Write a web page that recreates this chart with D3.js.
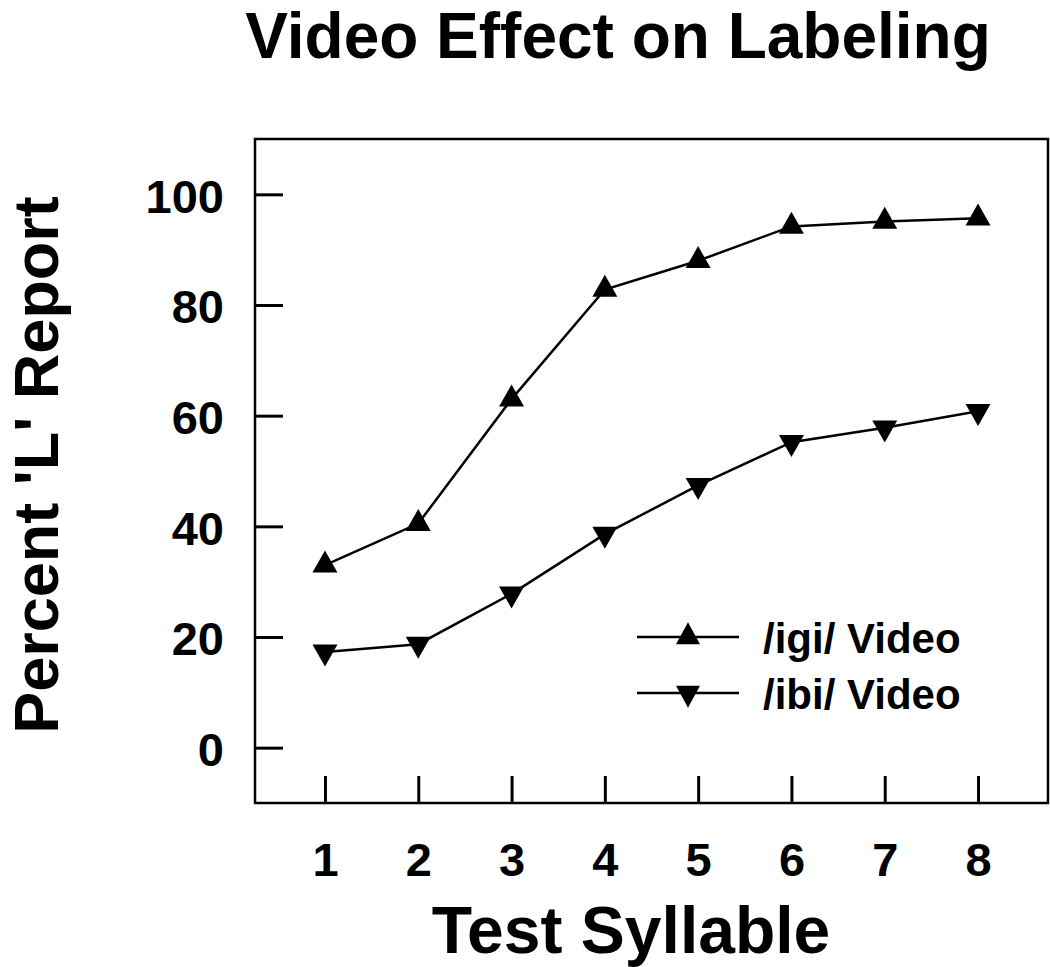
<!DOCTYPE html>
<html>
<head>
<meta charset="utf-8">
<script src="https://cdn.jsdelivr.net/npm/d3@7"></script>
<style>
  body { margin: 0; background: #fff; }
  text { font-family: "Liberation Sans", Arial, sans-serif; font-weight: bold; fill: #000; }
</style>
</head>
<body>
<div id="chart-container"></div>
<script>
// Data
const syllables = [1, 2, 3, 4, 5, 6, 7, 8];
const igiVideo = [33, 40.5, 63, 82.8, 88, 94.2, 95.1, 95.7];
const ibiVideo = [17.3, 18.7, 27.8, 38.6, 47.4, 55.2, 57.8, 60.8];
const yTicks = [0, 20, 40, 60, 80, 100];
const seriesNames = ["/igi/ Video", "/ibi/ Video"];

const width = 1050, height = 967;

// Plot box edges
const box = {left: 255, right: 1048, top: 139, bottom: 803};

const x = d3.scaleLinear()
  .domain([0.25, 8.75])
  .range([box.left, box.right]);

const y = d3.scaleLinear()
  .domain([-10, 110])
  .range([box.bottom, box.top]);

const svg = d3.select("#chart-container")
  .append("svg")
    .attr("width", width)
    .attr("height", height);

// Triangle path, centred on its centroid; dir = 1 points up, -1 points down
function triangle(w, h, dir) {
  const tip = -dir * 2 * h / 3, base = dir * h / 3;
  return `M0,${tip}L${w / 2},${base}L${-w / 2},${base}Z`;
}

// Title
svg.append("text")
  .attr("x", 618)
  .attr("y", 58)
  .attr("text-anchor", "middle")
  .style("font-size", "64px")
  .text("Video Effect on Labeling");

// Y axis (ticks point inwards)
svg.append("g")
  .attr("transform", `translate(${box.left},0)`)
  .style("font-size", "47px")
  .call(d3.axisLeft(y)
    .tickValues(yTicks)
    .tickSize(-28)
    .tickPadding(31))
  .call(g => g.select(".domain").remove())
  .call(g => g.selectAll(".tick line").attr("stroke", "#000").attr("stroke-width", 3))
  .call(g => g.selectAll(".tick text")
    .attr("dy", "0.38em")
    .style("font-family", "'Liberation Sans', Arial, sans-serif")
    .style("font-weight", "bold")
    .attr("fill", "#000"));

// X axis
svg.append("g")
  .attr("transform", `translate(0,${box.bottom})`)
  .style("font-size", "47px")
  .call(d3.axisBottom(x)
    .tickValues(syllables)
    .tickFormat(d3.format("d"))
    .tickSize(-27)
    .tickPadding(40))
  .call(g => g.select(".domain").remove())
  .call(g => g.selectAll(".tick line").attr("stroke", "#000").attr("stroke-width", 3))
  .call(g => g.selectAll(".tick text")
    .style("font-family", "'Liberation Sans', Arial, sans-serif")
    .style("font-weight", "bold")
    .attr("fill", "#000"));

// Frame
svg.append("rect")
  .attr("x", box.left)
  .attr("y", box.top)
  .attr("width", box.right - box.left)
  .attr("height", box.bottom - box.top)
  .attr("fill", "none")
  .attr("stroke", "#000")
  .attr("stroke-width", 2.5);

// Axis titles
svg.append("text")
  .attr("x", 631)
  .attr("y", 953)
  .attr("text-anchor", "middle")
  .style("font-size", "66px")
  .text("Test Syllable");

svg.append("text")
  .attr("transform", "translate(58,465) rotate(-90)")
  .attr("text-anchor", "middle")
  .style("font-size", "63px")
  .text("Percent 'L' Report");

// Lines and markers
const line = d3.line()
  .x((d, i) => x(syllables[i]))
  .y(d => y(d));

const series = [
  {name: seriesNames[0], values: igiVideo, dir: 1},
  {name: seriesNames[1], values: ibiVideo, dir: -1}
];

series.forEach(s => {
  svg.append("path")
    .datum(s.values)
    .attr("fill", "none")
    .attr("stroke", "#000")
    .attr("stroke-width", 2.5)
    .attr("d", line);

  svg.selectAll(null)
    .data(s.values)
    .join("path")
    .attr("transform", (d, i) => `translate(${x(syllables[i])},${y(d)})`)
    .attr("d", triangle(25, 22, s.dir))
    .attr("fill", "#000");
});

// Legend
const legend = svg.append("g");
series.forEach((s, i) => {
  const ly = 637 + i * 56;
  legend.append("line")
    .attr("x1", 637).attr("x2", 739)
    .attr("y1", ly).attr("y2", ly)
    .attr("stroke", "#000")
    .attr("stroke-width", 2.5);
  legend.append("path")
    .attr("transform", `translate(688,${ly})`)
    .attr("d", triangle(24, 22, s.dir))
    .attr("fill", "#000");
  legend.append("text")
    .attr("x", 763)
    .attr("y", ly + 16)
    .style("font-size", "42px")
    .text(s.name);
});
</script>
</body>
</html>
